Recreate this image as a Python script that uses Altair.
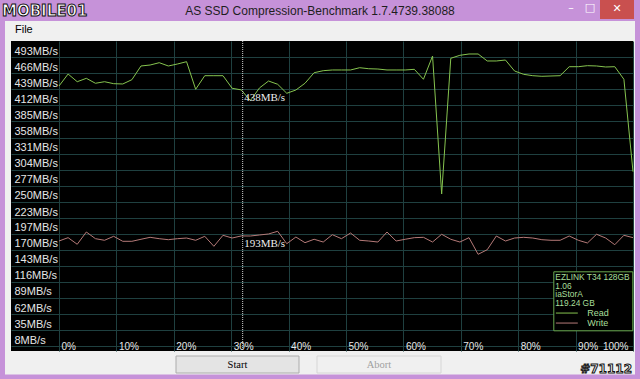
import altair as alt
import pandas as pd

# ---------------- data ----------------
read_mbs = [444.5, 464.6, 451.7, 457.4, 449.1, 451.7, 448.4, 447.9, 455.1, 478.1,
            479.7, 483.6, 478.1, 481.4, 485.3, 439.0, 461.8, 461.8, 461.8, 440.7,
            438.0, 419.9, 441.2, 452.9, 447.4, 432.3, 437.8, 449.1, 466.8, 470.2,
            471.4, 471.4, 471.4, 475.2, 473.5, 473.0, 471.4, 471.4, 471.4, 472.5,
            455.8, 494.8, 263.4, 491.0, 496.0, 498.2, 498.2, 486.5, 486.5, 488.1,
            469.7, 464.1, 461.8, 460.8, 461.3, 461.8, 476.9, 476.9, 478.6, 478.1,
            476.4, 476.9, 455.8, 300.8]
write_mbs = [184.5, 190.1, 179.0, 199.6, 188.4, 185.7, 192.4, 184.0, 184.0, 187.4,
             190.7, 188.4, 186.7, 188.4, 189.5, 185.7, 192.4, 175.6, 194.1, 189.5,
             193.0, 192.9, 194.6, 196.3, 200.8, 180.0, 191.2, 181.7, 187.4, 182.8,
             195.1, 188.4, 197.9, 185.7, 184.5, 182.8, 199.6, 184.5, 187.4, 190.1,
             190.7, 182.8, 195.8, 187.4, 182.8, 190.1, 162.2, 169.9, 192.9, 184.5,
             189.5, 190.7, 189.5, 186.7, 185.7, 185.7, 192.9, 185.7, 181.2, 195.8,
             189.5, 178.3, 194.1, 190.1]
# 64 evenly spaced compression steps from 0% to 100%
compression_pct = [round(i * 100 / 63, 3) for i in range(len(read_mbs))]

series_names = ["Read", "Write"]
y_ticks = [8, 35, 62, 89, 116, 143, 170, 197, 223, 250, 277, 304, 331, 358, 385,
           412, 439, 466, 493]
x_ticks = [0, 10, 20, 30, 40, 50, 60, 70, 80, 90, 100]

cursor_pct = [32.0]
readout_values = [438, 193]
readout_labels = ["438MB/s", "193MB/s"]

drive_info = ["EZLINK T34 128GB", "1.06", "iaStorA", "119.24 GB"]
window_title = "AS SSD Compression-Benchmark 1.7.4739.38088"

# ---------------- styling ----------------
PAD_L, PAD_T, PAD_R, PAD_B = 11, 41, 7, 28
W, H = 622, 310
PURPLE = "#c692d9"
CLIENT = "#f0f0f0"
GRID = "#1f4040"
LABEL = "#e6e6e6"
READ_C = "#86c44f"
WRITE_C = "#b57a78"
LEG_TXT = "#a9df9a"
LEG_BORDER = "#6aa84f"

xs = alt.Scale(domain=[-8.362, 100], nice=False, zero=False)
ys = alt.Scale(domain=[0, 520], nice=False, zero=False)

df = pd.DataFrame({
    "pct": compression_pct * 2,
    "mbs": read_mbs + write_mbs,
    "series": [series_names[0]] * len(read_mbs) + [series_names[1]] * len(write_mbs),
})

x_axis = alt.Axis(
    values=x_ticks, tickCount=len(x_ticks) * 3, title=None, domain=False, ticks=False,
    tickSize=0, grid=True, gridColor=GRID, gridWidth=1, gridOpacity=1,
    labelExpr="datum.value + '%'", labelColor=LABEL, labelFont="Liberation Sans",
    labelFontSize=10, labelBaseline="bottom", labelPadding=0, labelFlush=False,
    labelOverlap=False,
    labelAlign={"condition": {"test": "datum.value === 100", "value": "right"}, "value": "left"},
    labelOffset={"condition": {"test": "datum.value === 100", "value": -5}, "value": 2},
)
y_axis = alt.Axis(
    values=y_ticks, tickCount=len(y_ticks) * 3, title=None, domain=False, ticks=False,
    tickSize=0, grid=True, gridColor=GRID, gridWidth=1, gridOpacity=1,
    labelExpr="datum.value + 'MB/s'", labelColor=LABEL, labelFont="Liberation Sans",
    labelFontSize=11, labelAlign="left", labelBaseline="bottom", labelPadding=-3,
    labelOffset=-1, labelOverlap=False, labelFlush=False,
)

legend = alt.Legend(
    orient="none", legendX=542.3, legendY=230.3, title=drive_info,
    titleFont="Liberation Sans", titleFontSize=8.4, titleFontWeight="normal",
    titleColor=LEG_TXT, titleLineHeight=8.5, titlePadding=1.7, titleLimit=300,
    labelFont="Liberation Sans", labelFontSize=9, labelColor=LEG_TXT, labelOffset=9,
    symbolType="stroke", symbolSize=484, symbolStrokeWidth=1,
    clipHeight=8.3, rowPadding=0, padding=2, fillColor="black",
    strokeColor=LEG_BORDER, cornerRadius=0, zindex=2,
)

lines = alt.Chart(df).mark_line(strokeWidth=1).encode(
    x=alt.X("pct:Q", scale=xs, axis=x_axis),
    y=alt.Y("mbs:Q", scale=ys, axis=y_axis),
    color=alt.Color("series:N", scale=alt.Scale(domain=series_names, range=[READ_C, WRITE_C]),
                    legend=legend),
)

cursor = alt.Chart(pd.DataFrame({"pct": cursor_pct})).mark_rule(
    color="#d0d0d0", strokeDash=[1, 1], strokeWidth=1
).encode(x=alt.X("pct:Q", scale=xs))

readouts = alt.Chart(pd.DataFrame({
    "pct": cursor_pct * 2, "mbs": readout_values, "label": readout_labels
})).mark_text(
    align="left", baseline="top", dx=1.5, dy=2, font="Liberation Serif",
    fontSize=11, color="#ececec"
).encode(
    x=alt.X("pct:Q", scale=xs),
    y=alt.Y("mbs:Q", scale=ys),
    text="label:N",
)


# ---------------- window chrome (decoration, pixel positions) ----------------
def box(x0, x1, y0, y1, fill, stroke=None):
    mk = dict(fill=fill, strokeWidth=1 if stroke else 0)
    if stroke:
        mk["stroke"] = stroke
    return alt.Chart().mark_rect(**mk).encode(
        x=alt.value(x0 - PAD_L), x2=alt.value(x1 - PAD_L),
        y=alt.value(y0 - PAD_T), y2=alt.value(y1 - PAD_T),
    )


def label(txt, x, y, **mk):
    return alt.Chart().mark_text(text=txt, **mk).encode(
        x=alt.value(x - PAD_L), y=alt.value(y - PAD_T)
    )


chrome = [
    box(0, 640, 0, 21, PURPLE),
    box(0, 5, 0, 379, PURPLE),
    box(635, 640, 0, 379, PURPLE),
    box(0, 640, 374.5, 379, PURPLE),
    box(600, 634, 0, 19, "#c9504f"),
    box(176, 299, 356, 373, "#e4e4e4", "#acacac"),
    box(317, 441, 356, 373, "#f0f0f0", "#d6d6d6"),
    label(window_title, 320, 10.5, align="center", baseline="middle",
          font="Liberation Sans", fontSize=12, color="#1e1e1e"),
    label("File", 15, 30, align="left", baseline="middle",
          font="Liberation Sans", fontSize=11, color="#000000"),
    label("Start", 237.5, 364.5, align="center", baseline="middle",
          font="Liberation Serif", fontSize=10.5, color="#000000"),
    label("Abort", 379, 364.5, align="center", baseline="middle",
          font="Liberation Serif", fontSize=10.5, color="#a0a0a0"),
    label("\u2013", 571, 8, align="center", baseline="middle",
          font="DejaVu Sans", fontSize=11, color="#ffffff"),
    label("\u25a1", 590, 8, align="center", baseline="middle",
          font="DejaVu Sans", fontSize=11, color="#ffffff"),
    label("\u2715", 617, 9, align="center", baseline="middle",
          font="DejaVu Sans", fontSize=11, color="#ffffff"),
]
watermarks = [
    label("MOBILE01", 2, 10.5, align="left", baseline="middle", font="DejaVu Sans",
          fontSize=15, fontWeight="bold", color="#ffffff", stroke="#111111", strokeWidth=1),
    label("#71112", 632, 369, align="right", baseline="middle", font="DejaVu Sans",
          fontSize=12, fontWeight="bold", color="#ffffff", stroke="#111111", strokeWidth=1),
]

chart = alt.layer(
    lines, cursor, readouts, *chrome, *watermarks,
).properties(
    width=W, height=H,
    autosize=alt.AutoSizeParams(type="none"),
    padding={"left": PAD_L, "top": PAD_T, "right": PAD_R, "bottom": PAD_B},
    background=CLIENT,
).configure_view(fill="black", stroke=None)

chart.save("out.html", embed_options={"renderer": "svg", "actions": False})
